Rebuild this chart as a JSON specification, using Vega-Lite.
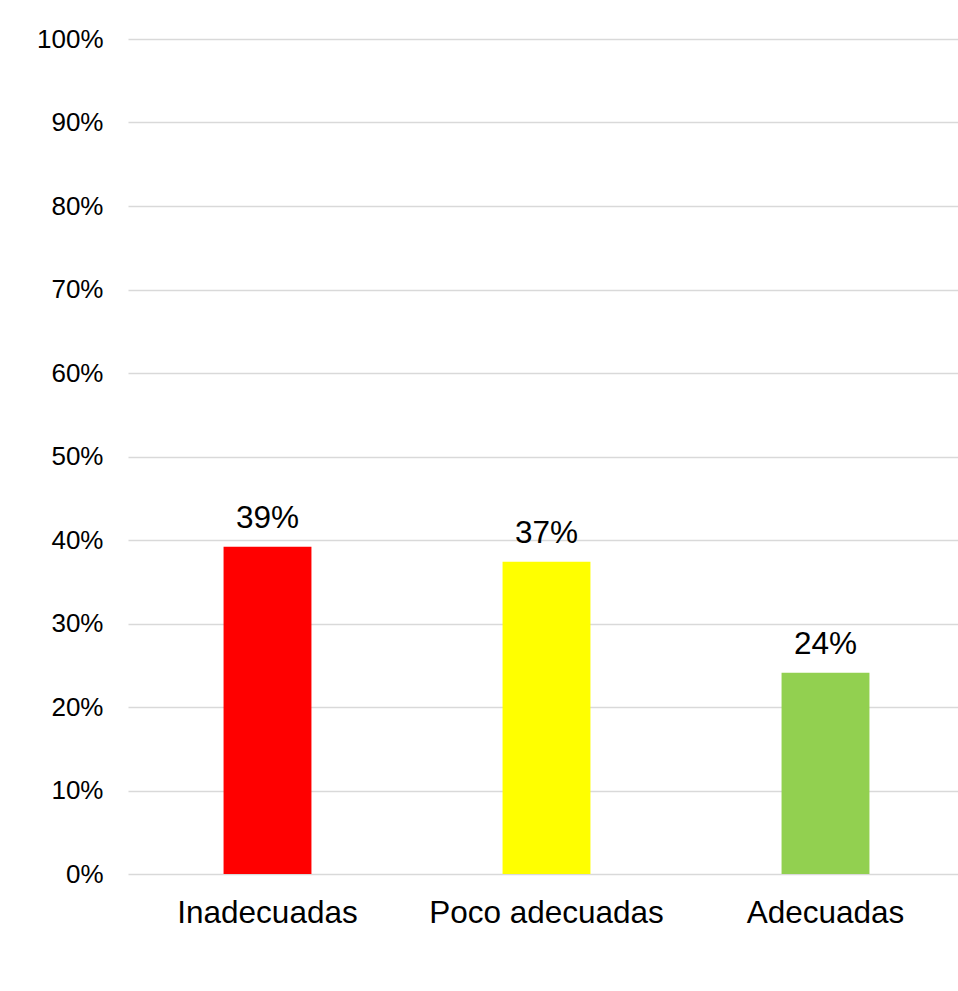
{
  "$schema": "https://vega.github.io/schema/vega-lite/v6.json",
  "autosize": {"type": "none"},
  "padding": {"left": 128, "top": 39, "right": 0, "bottom": 117},
  "width": 837,
  "height": 835,
  "background": "white",
  "config": {
    "view": {"stroke": null},
    "font": "Liberation Sans",
    "axis": {"labelFont": "Liberation Sans", "labelColor": "#000000"}
  },
  "data": {
    "values": [
      {"categoria": "Inadecuadas", "valor": 0.392, "color": "#FF0000"},
      {"categoria": "Poco adecuadas", "valor": 0.374, "color": "#FFFF00"},
      {"categoria": "Adecuadas", "valor": 0.241, "color": "#92D050"}
    ]
  },
  "encoding": {
    "x": {
      "field": "categoria",
      "type": "nominal",
      "sort": null,
      "scale": {"paddingInner": 0.685, "paddingOuter": 0.3425},
      "axis": {
        "title": null,
        "labelAngle": 0,
        "labelFontSize": 31.5,
        "labelLimit": 0,
        "labelBaseline": "alphabetic",
        "labelPadding": 48,
        "ticks": false,
        "domain": false,
        "grid": false
      }
    },
    "y": {
      "field": "valor",
      "type": "quantitative",
      "scale": {"domain": [0, 1], "nice": false},
      "axis": {
        "title": null,
        "format": ".0%",
        "values": [0, 0.1, 0.2, 0.3, 0.4, 0.5, 0.6, 0.7, 0.8, 0.9, 1],
        "labelFontSize": 26,
        "labelPadding": 25,
        "ticks": false,
        "domain": false,
        "grid": true,
        "gridColor": "#d9d9d9",
        "gridWidth": 1.5
      }
    }
  },
  "layer": [
    {
      "mark": {"type": "bar"},
      "encoding": {
        "color": {"field": "color", "type": "nominal", "scale": null}
      }
    },
    {
      "mark": {"type": "text", "baseline": "alphabetic", "dy": -19, "fontSize": 31.5, "color": "#000000"},
      "encoding": {
        "text": {"field": "valor", "type": "quantitative", "format": ".0%"}
      }
    }
  ]
}
